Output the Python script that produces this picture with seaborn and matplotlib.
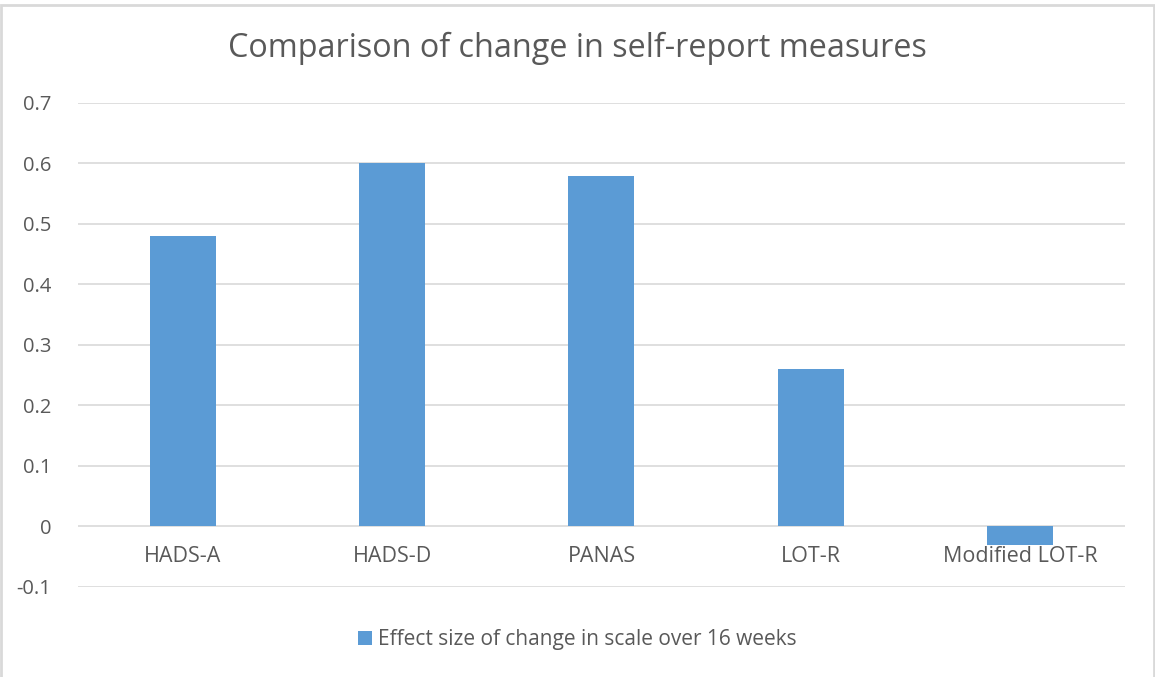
import matplotlib
matplotlib.use("Agg")
import matplotlib.pyplot as plt
import pandas as pd
import seaborn as sns
from matplotlib.patches import Rectangle, Patch

measures = ["HADS-A", "HADS-D", "PANAS", "LOT-R", "Modified LOT-R"]
effect_sizes = [0.48, 0.60, 0.58, 0.26, -0.03]
yticks = [-0.1, 0, 0.1, 0.2, 0.3, 0.4, 0.5, 0.6, 0.7]
series_name = "Effect size of change in scale over 16 weeks"
title = "Comparison of change in self-report measures"

BAR_COLOR = "#5B9BD5"
TEXT_COLOR = "#595959"
GRID_COLOR = "#D9D9D9"

df = pd.DataFrame({"measure": measures, "effect": effect_sizes})

sns.set_theme(style="white")
plt.rcParams["font.family"] = ["Open Sans", "DejaVu Sans"]

fig = plt.figure(figsize=(11.55, 6.77), dpi=100)
ax = fig.add_axes([0.0675, 0.133, 0.9065, 0.715])

sns.barplot(data=df, x="measure", y="effect", color=BAR_COLOR,
            width=0.315, saturation=1, edgecolor="none", linewidth=0, ax=ax)

ax.set_ylim(-0.1, 0.7)
ax.set_yticks(yticks)
ax.set_yticklabels(["-0.1", "0", "0.1", "0.2", "0.3", "0.4", "0.5", "0.6", "0.7"])
ax.set_xlim(-0.5, len(measures) - 0.5)
ax.grid(axis="y", color=GRID_COLOR, linewidth=1.2)
ax.set_axisbelow(True)
for s in ax.spines.values():
    s.set_visible(False)
# category labels sit just under the zero line, like Excel
ax.spines["bottom"].set_position(("data", 0))
ax.tick_params(axis="both", length=0, colors=TEXT_COLOR)
ax.tick_params(axis="x", pad=14, labelsize=15.5)
ax.tick_params(axis="y", pad=19, labelsize=14.5)
ax.set_xlabel("")
ax.set_ylabel("")

fig.text(0.5, 0.928, title, ha="center", va="center", fontsize=23.3, color=TEXT_COLOR)

handle = Patch(facecolor=BAR_COLOR, edgecolor="none")
fig.legend([handle], [series_name], loc="center", bbox_to_anchor=(0.5, 0.055),
           frameon=False, fontsize=15, handlelength=0.65, handleheight=0.65,
           handletextpad=0.3, labelcolor=TEXT_COLOR)

# chart frame
fig.patches.append(Rectangle((0.001, -0.01), 0.998, 1.0026, transform=fig.transFigure,
                             fill=False, edgecolor=GRID_COLOR, linewidth=2))

fig.savefig("out.png", dpi=100)
